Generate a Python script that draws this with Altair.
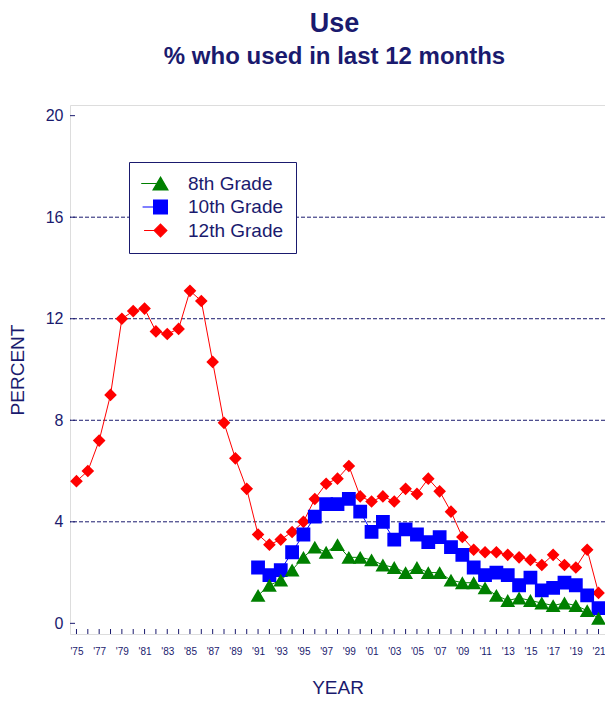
import altair as alt
import pandas as pd

NAVY = "#1a1a6e"
FONT = "Liberation Sans"

years = list(range(1975, 2022))
grade12 = [5.6, 6.0, 7.2, 9.0, 12.0, 12.3, 12.4, 11.5, 11.4, 11.6, 13.1, 12.7, 10.3, 7.9, 6.5, 5.3,
           3.5, 3.1, 3.3, 3.6, 4.0, 4.9, 5.5, 5.7, 6.2, 5.0, 4.8, 5.0, 4.8, 5.3, 5.1, 5.7,
           5.2, 4.4, 3.4, 2.9, 2.8, 2.8, 2.7, 2.6, 2.5, 2.3, 2.7, 2.3, 2.2, 2.9, 1.2]
years_8_10 = list(range(1991, 2022))
grade10 = [2.2, 1.9, 2.1, 2.8, 3.5, 4.2, 4.7, 4.7, 4.9, 4.4, 3.6, 4.0, 3.3, 3.7, 3.5, 3.2,
           3.4, 3.0, 2.7, 2.2, 1.9, 2.0, 1.9, 1.5, 1.8, 1.3, 1.4, 1.6, 1.5, 1.1, 0.6]
grade8 = [1.1, 1.5, 1.7, 2.1, 2.6, 3.0, 2.8, 3.1, 2.6, 2.6, 2.5, 2.3, 2.2, 2.0, 2.2, 2.0,
          2.0, 1.7, 1.6, 1.6, 1.4, 1.1, 0.9, 1.0, 0.9, 0.8, 0.7, 0.8, 0.7, 0.5, 0.2]

grades = ["8th Grade", "10th Grade", "12th Grade"]
colors = ["#008000", "#0000ff", "#ff0000"]
# marker paths with a short line stub on the left (only visible as stroke in the legend)
shapes = [
    "M-2.6,0H0M0,-0.866L1,0.866H-1Z",
    "M-2.6,0H0M-1,-1H1V1H-1Z",
    "M-2.6,0H0M-1,0L0,-1L1,0L0,1Z",
]
sizes = [220, 160, 170]

y_ticks = [0, 4, 8, 12, 16, 20]
grid_vals = [4, 8, 12, 16]
label_years = list(range(1975, 2022, 2))

rows = []
for y, v in zip(years, grade12):
    rows.append({"year": y, "pct": v, "grade": "12th Grade"})
for y, v in zip(years_8_10, grade10):
    rows.append({"year": y, "pct": v, "grade": "10th Grade"})
for y, v in zip(years_8_10, grade8):
    rows.append({"year": y, "pct": v, "grade": "8th Grade"})
df = pd.DataFrame(rows)

W, H = 535, 529

xscale = alt.Scale(domain=[1974.43, 2021.57], nice=False, zero=False)
yscale = alt.Scale(domain=[-0.42, 20.42], nice=False, zero=False)

x_axis = alt.Axis(values=label_years,
                  labelExpr="\"'\" + substring(toString(datum.value), 2)",
                  title="YEAR", grid=False, ticks=False, domain=False,
                  labelPadding=12, labelFontSize=10, labelColor=NAVY,
                  titleFontSize=19, titleFontWeight="normal", titleColor=NAVY,
                  titlePadding=22, labelFont=FONT, titleFont=FONT)
y_axis = alt.Axis(values=y_ticks, title="PERCENT", grid=False, ticks=False,
                  domain=False, labelPadding=7, labelFontSize=16,
                  labelColor=NAVY, titleFontSize=19, titleFontWeight="normal",
                  titleColor=NAVY, titlePadding=18, labelFont=FONT,
                  titleFont=FONT)


def X():
    return alt.X("year:Q", scale=xscale, axis=x_axis)


def Y():
    return alt.Y("pct:Q", scale=yscale, axis=y_axis)


legend = alt.Legend(title=None, orient="none", legendX=59, legendY=57,
                    labelFontSize=19, labelColor=NAVY, labelFont=FONT,
                    labelExpr="datum.label + '  '",
                    strokeColor=NAVY, fillColor="white", padding=12,
                    symbolSize=150, symbolOffset=10, rowPadding=3.5,
                    labelOffset=18, symbolStrokeWidth=1.2)


def C():
    return alt.Color("grade:N", scale=alt.Scale(domain=grades, range=colors), legend=legend)


grid = alt.Chart(pd.DataFrame({"pct": grid_vals})).mark_rule(
    color=NAVY, strokeWidth=1, strokeDash=[4, 2]
).encode(y=Y())

xticks = alt.Chart(pd.DataFrame({"year": years})).mark_rule(
    color=NAVY, strokeWidth=1
).encode(x=X(), y=alt.value(H), y2=alt.value(H - 5))

yticks = alt.Chart(pd.DataFrame({"pct": y_ticks})).mark_rule(
    color=NAVY, strokeWidth=1
).encode(y=Y(), x=alt.value(0), x2=alt.value(5))

lines = alt.Chart(df).mark_line(strokeWidth=1).encode(
    x=X(), y=Y(), color=C(), detail="grade:N",
)

points = alt.Chart(df).mark_point(filled=True, opacity=1).encode(
    x=X(), y=Y(), color=C(),
    shape=alt.Shape("grade:N", scale=alt.Scale(domain=grades, range=shapes), legend=legend),
    size=alt.Size("grade:N", scale=alt.Scale(domain=grades, range=sizes), legend=None),
)

chart = alt.layer(grid, xticks, yticks, lines, points).properties(
    width=W, height=H,
    autosize=alt.AutoSizeParams(type="none"),
    padding={"left": 62, "top": 97, "right": 0, "bottom": 67},
    title=alt.TitleParams("Use", subtitle="% who used in last 12 months",
                          fontSize=27, subtitleFontSize=24, fontWeight="bold",
                          subtitleFontWeight="bold", color=NAVY, subtitleColor=NAVY,
                          anchor="middle", offset=35, subtitlePadding=7,
                          font=FONT, subtitleFont=FONT, dx=-3),
).configure_view(stroke=NAVY, strokeWidth=1.2).configure(font=FONT)

chart.save("out.html", embed_options={"renderer": "svg", "actions": False})
